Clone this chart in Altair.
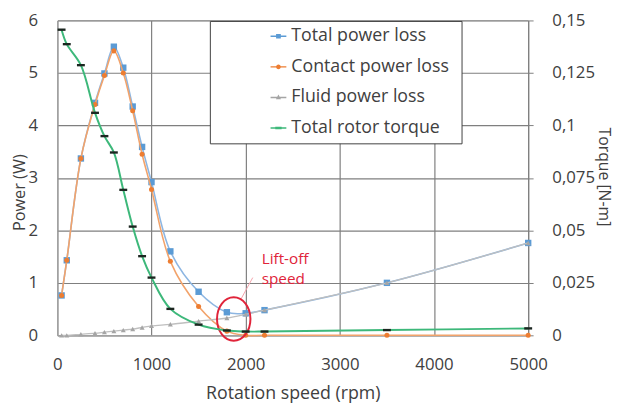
import altair as alt
import pandas as pd

# ---- data ----
rpm = [45, 100, 250, 400, 500, 600, 700, 800, 900, 1000, 1200, 1500, 1800, 2000, 2200, 3500, 5000]
total_loss = [0.76, 1.43, 3.37, 4.43, 4.99, 5.50, 5.10, 4.36, 3.59, 2.92, 1.60, 0.83, 0.44, 0.42, 0.48, 1.00, 1.76]
contact_loss = [0.76, 1.43, 3.37, 4.40, 4.95, 5.42, 5.00, 4.28, 3.45, 2.78, 1.41, 0.55, 0.08, 0.00, 0.00, 0.00, 0.00]
fluid_loss = [0.00, 0.00, 0.02, 0.04, 0.06, 0.08, 0.10, 0.12, 0.15, 0.18, 0.21, 0.27, 0.33, 0.40, 0.48, 1.00, 1.76]
rotor_torque = [0.1456, 0.1387, 0.1287, 0.1060, 0.0949, 0.0871, 0.0693, 0.0518, 0.0377, 0.0275,
                0.0126, 0.0051, 0.0023, 0.0018, 0.0018, 0.0025, 0.0033]

series_names = ["Total power loss", "Contact power loss", "Fluid power loss", "Total rotor torque"]
x_ticks = [0, 1000, 2000, 3000, 4000, 5000]
power_ticks = [0, 1, 2, 3, 4, 5, 6]
torque_ticks = [0, 0.025, 0.05, 0.075, 0.1, 0.125, 0.15]

# annotation ("Lift-off speed")
liftoff_rpm = [1873]
liftoff_power = [0.31]
note_lines = ["Lift-off", "speed"]
note_rpm = [2170, 2170]
note_power = [1.36, 0.98]
leader_rpm = [1950, 2075]
leader_power = [0.69, 1.10]

# ---- styles ----
FONT = "Open Sans"
TXT = "#404040"
line_colors = ["#8DB6E2", "#F2A36B", "#BFBFBF", "#3DB87A"]
marker_colors = ["#5B9BD5", "#ED7D31", "#A5A5A5", "#1B2620"]
legend_colors = ["#5B9BD5", "#ED7D31", "#A5A5A5", "#3DB87A"]
RED = "#E0243A"

DASH = "M-1,-0.3H1V0.3H-1Z"
ELLIPSE = "M-0.77,0A0.77,1,0,1,1,0.77,0A0.77,1,0,1,1,-0.77,0Z"
LINE = "M-1,-0.09H1V0.09H-1Z"
legend_shapes = [
    LINE + "M-0.3,-0.3H0.3V0.3H-0.3Z",
    LINE + "M-0.3,0A0.3,0.3,0,1,1,0.3,0A0.3,0.3,0,1,1,-0.3,0Z",
    LINE + "M0,-0.36L0.32,0.22H-0.32Z",
    LINE + "M-0.4,-0.16H0.4V0.16H-0.4Z",
]

power_df = pd.DataFrame({
    "rpm": rpm * 3,
    "power": total_loss + contact_loss + fluid_loss,
    "series": [series_names[0]] * len(rpm) + [series_names[1]] * len(rpm) + [series_names[2]] * len(rpm),
})
torque_df = pd.DataFrame({"rpm": rpm, "torque": rotor_torque})

x_enc = alt.X(
    "rpm:Q",
    scale=alt.Scale(domain=[0, 5000], nice=False, zero=False),
    axis=alt.Axis(
        values=x_ticks, title="Rotation speed (rpm)", grid=True, gridColor="#7f7f7f", gridWidth=1.2,
        domainColor="#a6a6a6", ticks=False, labelPadding=30, labelBaseline="middle", labelFlush=False,
        labelFont=FONT, labelFontSize=17, labelColor=TXT, format="d",
        titleFont=FONT, titleFontSize=18, titleFontWeight="normal", titleColor=TXT,
        titleY=59, titleBaseline="middle",
    ),
)
y_power = alt.Y(
    "power:Q",
    scale=alt.Scale(domain=[0, 6], nice=False),
    axis=alt.Axis(
        values=power_ticks, title="Power (W)", grid=True, gridColor="#7f7f7f", gridWidth=1.2,
        domainColor="#a6a6a6", ticks=False, labelPadding=20, labelFlush=False,
        labelFont=FONT, labelFontSize=17, labelColor=TXT,
        titleFont=FONT, titleFontSize=16.5, titleFontWeight="normal", titleColor=TXT,
        titleX=-38, titleY=174, titleAngle=270, titleAlign="center", titleBaseline="middle",
    ),
)
y_torque = alt.Y(
    "torque:Q",
    scale=alt.Scale(domain=[0, 0.15], nice=False),
    axis=alt.Axis(
        orient="right", values=torque_ticks, title="Torque [N-m]", grid=False,
        domainColor="#7f7f7f", tickColor="#7f7f7f", tickSize=5, labelPadding=19, labelFlush=False,
        labelExpr="replace(format(datum.value, '.3~f'), '.', ',')",
        labelFont=FONT, labelFontSize=17, labelColor=TXT,
        titleFont=FONT, titleFontSize=16, titleFontWeight="normal", titleColor=TXT,
        titleX=76, titleY=158, titleAngle=90, titleAlign="center", titleBaseline="middle",
    ),
)

base_power = alt.Chart(power_df)

# legend box (white, covers the grid)
legend_box = alt.Chart(alt.Data(values=[{"k": 1}])).mark_rect(
    fill="white", stroke="#404040", strokeWidth=1
).encode(x=alt.value(155), x2=alt.value(410), y=alt.value(1), y2=alt.value(125))

power_layers = []
markers = [("square", 42), ("circle", 26), ("triangle-up", 26)]
for i in range(3):
    s = series_names[i]
    ln = base_power.transform_filter(alt.datum.series == s).mark_line(
        interpolate="catmull-rom", color=line_colors[i], strokeWidth=1.6 if i < 2 else 1.3
    ).encode(x=x_enc, y=y_power)
    pt = base_power.transform_filter(alt.datum.series == s).mark_point(
        shape=markers[i][0], size=markers[i][1], filled=True, color=marker_colors[i], opacity=1
    ).encode(x=x_enc, y=y_power)
    power_layers += [ln, pt]

# legend (driven by an empty layer with explicit scale domains)
legend_layer = alt.Chart(pd.DataFrame({"series": series_names})).transform_filter("false").mark_point(
    filled=True, strokeWidth=0
).encode(
    x=x_enc,
    color=alt.Color("series:N", scale=alt.Scale(domain=series_names, range=legend_colors),
                    legend=alt.Legend(orient="none", legendX=215, legendY=7, title=None,
                                      symbolSize=256, labelFont=FONT, labelFontSize=18,
                                      labelColor=TXT, labelOffset=4, rowPadding=13, padding=0,
                                      symbolOpacity=1, symbolStrokeWidth=0, labelLimit=300)),
    shape=alt.Shape("series:N", scale=alt.Scale(domain=series_names, range=legend_shapes), legend=None),
)

ellipse = alt.Chart(pd.DataFrame({"rpm": liftoff_rpm, "power": liftoff_power})).mark_point(
    shape=ELLIPSE, size=1936, filled=False, stroke=RED, strokeWidth=2, opacity=1
).encode(x=x_enc, y=y_power)

leader = alt.Chart(pd.DataFrame({"rpm": [leader_rpm[0]], "rpm2": [leader_rpm[1]],
                                 "power": [leader_power[0]], "power2": [leader_power[1]]})).mark_rule(
    color="#F3A3AB", strokeWidth=1
).encode(x=x_enc, x2="rpm2:Q", y=y_power, y2="power2:Q")

note = alt.Chart(pd.DataFrame({"rpm": note_rpm, "power": note_power, "label": note_lines})).mark_text(
    align="left", baseline="alphabetic", font=FONT, fontSize=15.5, color=RED
).encode(x=x_enc, y=y_power, text="label:N")

left = alt.layer(legend_box, *power_layers, legend_layer, leader, ellipse, note)

base_t = alt.Chart(torque_df)
torque_line = base_t.mark_line(interpolate="catmull-rom", color=line_colors[3], strokeWidth=2).encode(
    x=x_enc, y=y_torque)
torque_pts = base_t.mark_point(shape=DASH, size=64, filled=True, color=marker_colors[3], opacity=1).encode(
    x=x_enc, y=y_torque)
right = alt.layer(torque_line, torque_pts)

chart = alt.layer(left, right).resolve_scale(y="independent").properties(
    width=477, height=319,
    autosize=alt.AutoSizeParams(type="none"),
    padding={"left": 50, "top": 10, "right": 91, "bottom": 70},
).configure_view(strokeWidth=0).configure(background="white")

chart.save("out.html", embed_options={"renderer": "svg", "actions": False})
